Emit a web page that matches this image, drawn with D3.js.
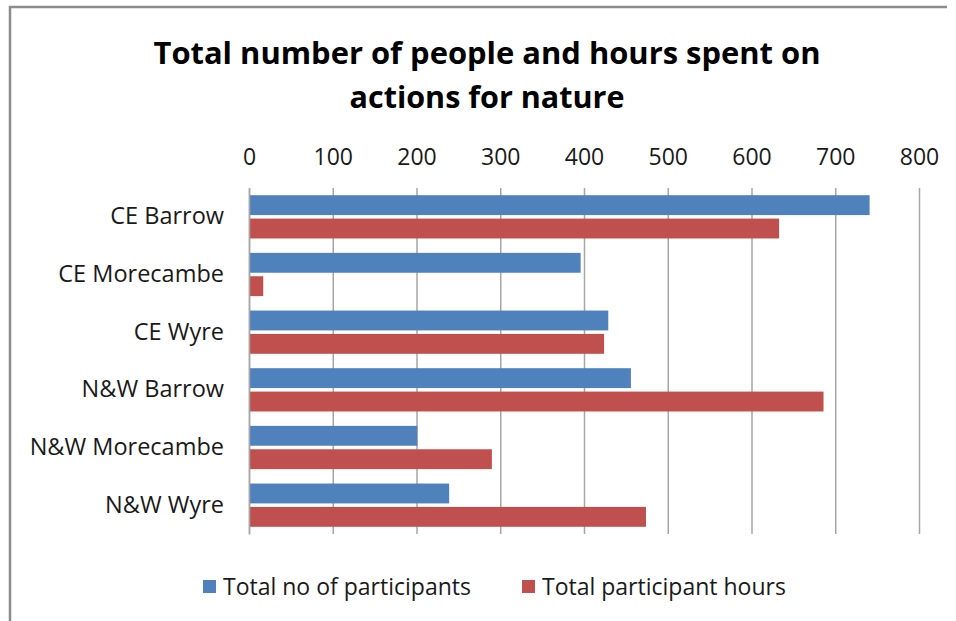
<!DOCTYPE html>
<html>
<head>
<meta charset="utf-8">
<script src="https://cdn.jsdelivr.net/npm/d3@7"></script>
<style>
  body { margin: 0; background: #fff; }
  text { font-family: "Open Sans", "Liberation Sans", Arial, sans-serif; fill: #1a1a1a; }
</style>
</head>
<body>
<div id="chart"></div>
<script>
// DATA
const categories = [`CE Barrow`, `CE Morecambe`, `CE Wyre`, `N&W Barrow`, `N&W Morecambe`, `N&W Wyre`];
const participants = [741, 396, 429, 456, 201, 239];
const participantHours = [633, 17, 424, 686, 290, 474];
const seriesNames = [`Total no of participants`, `Total participant hours`];
const xTicks = [0, 100, 200, 300, 400, 500, 600, 700, 800];
const titleLines = [`Total number of people and hours spent on`, `actions for nature`];

const COLORS = [`#4F81BD`, `#C0504D`];
const FONT = `"Open Sans", "Liberation Sans", Arial, sans-serif`;
const W = 956, H = 621;
const plot = { left: 249, right: 919, top: 188, bottom: 534 };

const svg = d3.select(`#chart`).append(`svg`)
  .attr(`width`, W)
  .attr(`height`, H);

// frame (top + left edge visible)
svg.append(`path`)
  .attr(`d`, `M10,${H} L10,7 L947,7`)
  .attr(`fill`, `none`)
  .attr(`stroke`, `#8c8c8c`)
  .attr(`stroke-width`, 2.5);

// TITLE
const titleWidths = [667, 275];
svg.selectAll(`.title`)
  .data(titleLines)
  .join(`text`)
  .attr(`class`, `title`)
  .attr(`x`, 487)
  .attr(`y`, (d, i) => 64 + i * 44)
  .attr(`text-anchor`, `middle`)
  .attr(`font-size`, 31)
  .attr(`font-weight`, `bold`)
  .attr(`font-family`, `"Liberation Sans", Arial, sans-serif`)
  .attr(`textLength`, (d, i) => titleWidths[i])
  .attr(`lengthAdjust`, `spacingAndGlyphs`)
  .style(`fill`, `#000`)
  .text(d => d);

// SCALES
const xScale = d3.scaleLinear()
  .domain([0, 800])
  .range([plot.left, plot.right]);

const yScale = d3.scaleBand()
  .domain(categories)
  .range([plot.top, plot.bottom])
  .paddingInner(0.25)
  .paddingOuter(0.125);

const ySeries = d3.scaleBand()
  .domain([0, 1])
  .range([0, yScale.bandwidth()])
  .paddingInner(0.15);

// GRID
const xAxis = d3.axisTop(xScale)
  .tickValues(xTicks)
  .tickSize(-(plot.bottom - plot.top))
  .tickPadding(0)
  .tickFormat(d3.format(`d`));

svg.append(`g`)
  .attr(`transform`, `translate(0, ${plot.top})`)
  .call(xAxis)
  .call(g => g.attr(`font-family`, FONT).attr(`font-size`, 23))
  .call(g => g.select(`.domain`).remove())
  .call(g => g.selectAll(`.tick line`).attr(`stroke`, `#a6a6a6`).attr(`stroke-width`, 1.5))
  .call(g => g.selectAll(`.tick text`)
    .attr(`y`, -23)
    .attr(`fill`, `#1a1a1a`));

// BARS
const rows = categories.map((c, i) => ({ cat: c, values: [participants[i], participantHours[i]] }));

const group = svg.selectAll(`.cat`)
  .data(rows)
  .join(`g`)
  .attr(`class`, `cat`)
  .attr(`transform`, d => `translate(0, ${yScale(d.cat)})`);

group.selectAll(`rect`)
  .data(d => d.values.map((v, s) => ({ v, s })))
  .join(`rect`)
  .attr(`x`, xScale(0))
  .attr(`y`, d => ySeries(d.s))
  .attr(`width`, d => xScale(d.v) - xScale(0))
  .attr(`height`, ySeries.bandwidth())
  .attr(`fill`, d => COLORS[d.s]);

// CATEGORY AXIS
const yAxis = d3.axisLeft(yScale).tickSize(0).tickPadding(25);
svg.append(`g`)
  .attr(`transform`, `translate(${plot.left}, 0)`)
  .call(yAxis)
  .call(g => g.attr(`font-family`, FONT).attr(`font-size`, 23.5))
  .call(g => g.select(`.domain`).attr(`stroke`, `#a6a6a6`).attr(`stroke-width`, 1.5))
  .call(g => g.selectAll(`.tick text`).attr(`fill`, `#1a1a1a`));

// LEGEND
const legendX = [203, 522];
const legend = svg.selectAll(`.legend`)
  .data(seriesNames)
  .join(`g`)
  .attr(`class`, `legend`)
  .attr(`transform`, (d, i) => `translate(${legendX[i]}, 580)`);

legend.append(`rect`)
  .attr(`width`, 13)
  .attr(`height`, 13)
  .attr(`fill`, (d, i) => COLORS[i]);

legend.append(`text`)
  .attr(`x`, 20)
  .attr(`y`, 15)
  .attr(`font-size`, 23)
  .text(d => d);
</script>
</body>
</html>
